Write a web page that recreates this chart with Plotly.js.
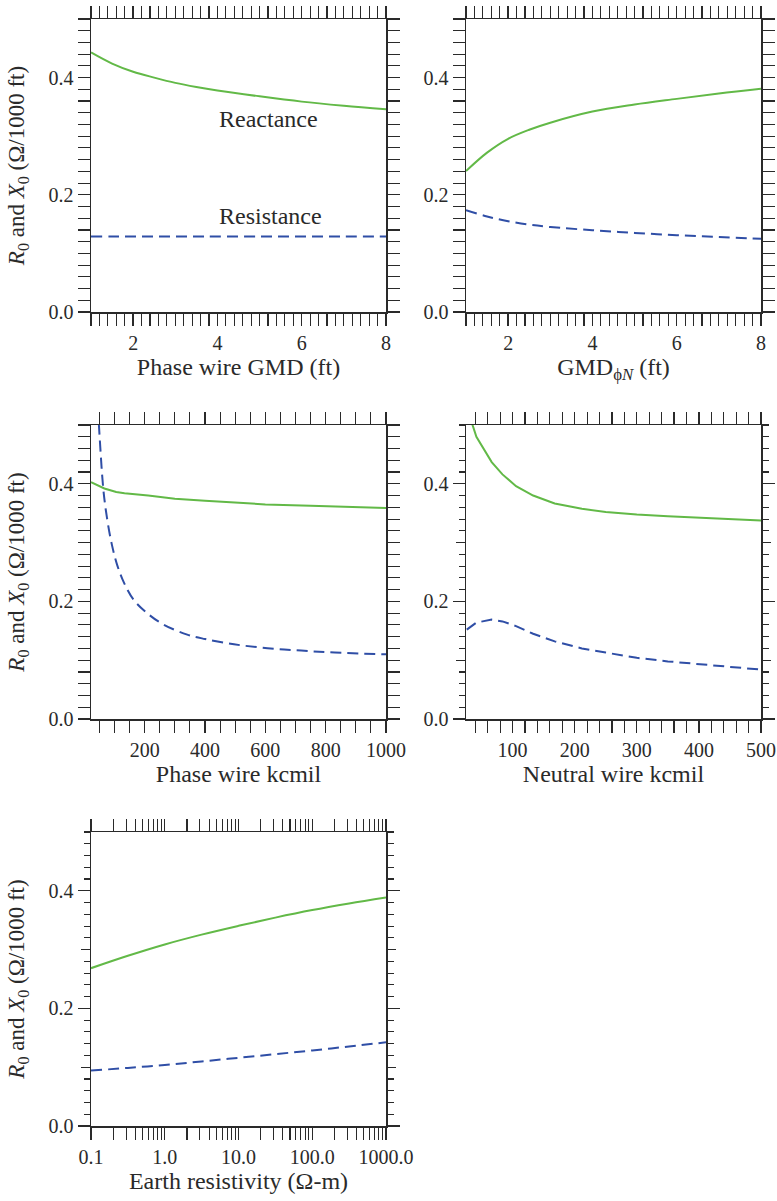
<!DOCTYPE html>
<html>
<head>
<meta charset="utf-8">
<script src="https://cdn.plot.ly/plotly-3.0.1.min.js"></script>
<style>html,body{margin:0;padding:0;background:#fff;}#chart{width:777px;height:1201px;}</style>
</head>
<body>
<div id="chart"></div>
<script>
// Panel 1: Phase wire GMD (ft)
const gmdPhase = [1, 1.5, 2, 2.5, 3, 3.5, 4, 5, 6, 7, 8];
const gmdPhaseX0 = [0.443, 0.424, 0.410, 0.400, 0.391, 0.384, 0.378, 0.368, 0.359, 0.352, 0.346];
const gmdPhaseR0 = [0.129, 0.129, 0.129, 0.129, 0.129, 0.129, 0.129, 0.129, 0.129, 0.129, 0.129];
// Panel 2: GMD phi-N (ft)
const gmdPN = [1, 1.5, 2, 2.5, 3, 4, 5, 6, 7, 8];
const gmdPNX0 = [0.2405, 0.272, 0.2956, 0.311, 0.323, 0.342, 0.354, 0.3637, 0.373, 0.381];
const gmdPNR0 = [0.1736, 0.163, 0.155, 0.149, 0.145, 0.1396, 0.135, 0.131, 0.128, 0.1248];
// Panel 3: Phase wire kcmil
const phaseKcmilX = [22, 41.74, 66.36, 105.6, 133.1, 211.6, 300, 400, 500, 600, 750, 800, 1000];
const phaseKcmilX0 = [0.403, 0.398, 0.392, 0.386, 0.384, 0.380, 0.3745, 0.371, 0.368, 0.365, 0.3625, 0.362, 0.359];
const phaseKcmilR = [41.74, 50, 63, 75, 91, 110, 132, 163, 208, 263, 341, 400, 496, 607, 719, 830, 1000];
const phaseKcmilR0 = [0.56, 0.485, 0.39, 0.342, 0.297, 0.26, 0.231, 0.203, 0.180, 0.1605, 0.1435, 0.136, 0.127, 0.1205, 0.1163, 0.113, 0.110];
// Panel 4: Neutral wire kcmil
const neutralKcmil = [26.24, 41.74, 66.36, 83.69, 105.6, 133.1, 167.8, 211.6, 250, 300, 350, 400, 500];
const neutralX0 = [0.53, 0.48, 0.437, 0.416, 0.396, 0.380, 0.3665, 0.3574, 0.352, 0.3478, 0.3449, 0.342, 0.3375];
const neutralR0 = [0.152, 0.164, 0.169, 0.166, 0.158, 0.145, 0.132, 0.120, 0.113, 0.104, 0.098, 0.093, 0.084];
// Panel 5: Earth resistivity (ohm-m)
const earthRho = [0.1, 0.316, 1, 3.16, 10, 31.6, 100, 316, 1000];
const earthX0 = [0.2684, 0.2895, 0.3088, 0.3255, 0.3404, 0.3544, 0.3672, 0.3784, 0.3886];
const earthR0 = [0.0942, 0.0988, 0.1038, 0.1098, 0.1160, 0.1222, 0.1285, 0.1352, 0.1424];
const earthTickVals = [0.1, 1, 10, 100, 1000];
const earthTickText = ['0.1', '1.0', '10.0', '100.0', '1000.0'];

const yTitle = '<i>R</i><sub>0</sub> and <i>X</i><sub>0</sub> (Ω/1000 ft)';
const GREEN = '#62b947';
const BLUE = '#2f4ea6';
const INK = '#2a2a2a';
const FONT = 'Liberation Serif, Times New Roman, serif';
const TICKSIZE = 20, TITLESIZE = 24, YTITLESIZE = 23;
const W = 777, H = 1201;

function px2x(a, b) { return [a / W, b / W]; }
function px2y(top, bot) { return [1 - bot / H, 1 - top / H]; }

const green = (x, y, xa, ya, shape) => ({x, y, xaxis: xa, yaxis: ya, mode: 'lines', line: {color: GREEN, width: 2, shape: shape || 'spline'}, hoverinfo: 'skip'});
const blue = (x, y, xa, ya, shape) => ({x, y, xaxis: xa, yaxis: ya, mode: 'lines', line: {color: BLUE, width: 2, dash: '11px,6px', shape: shape || 'spline'}, hoverinfo: 'skip'});

const data = [
  green(gmdPhase, gmdPhaseX0, 'x', 'y'), blue(gmdPhase, gmdPhaseR0, 'x', 'y'),
  green(gmdPN, gmdPNX0, 'x2', 'y2'), blue(gmdPN, gmdPNR0, 'x2', 'y2'),
  green(phaseKcmilX, phaseKcmilX0, 'x3', 'y3', 'linear'), blue(phaseKcmilR, phaseKcmilR0, 'x3', 'y3'),
  green(neutralKcmil, neutralX0, 'x4', 'y4', 'linear'), blue(neutralKcmil, neutralR0, 'x4', 'y4', 'linear'),
  green(earthRho, earthX0, 'x5', 'y5'), blue(earthRho, earthR0, 'x5', 'y5')
];

const titleFont = {family: FONT, size: TITLESIZE, color: INK};
const yTitleFont = {family: FONT, size: YTITLESIZE, color: INK};
const axBase = {
  showline: true, linecolor: INK, linewidth: 1.5, mirror: 'allticks',
  ticks: 'outside', ticklen: 12, tickwidth: 1.3, tickcolor: INK,
  showgrid: false, zeroline: false, fixedrange: true,
  tickfont: {family: FONT, size: TICKSIZE, color: INK}
};
const minorSpec = (extra) => Object.assign({ticks: 'outside', ticklen: 6, tickwidth: 1.1, tickcolor: INK, showgrid: false}, extra);
function xax(domain, extra) { return Object.assign({}, axBase, {domain}, extra); }
function yax(domain, anchor, title) {
  const a = Object.assign({}, axBase, {
    domain, anchor, range: [0, 0.5], dtick: 0.2, tick0: 0, tickformat: '.1f',
    minor: minorSpec({dtick: 0.02})
  });
  if (title) a.title = {text: title, standoff: 17, font: yTitleFont};
  return a;
}
// overlay axes that only draw the medium-length ticks
function midX(over, anchor, domain, range, dtick) {
  return {overlaying: over, anchor, domain, range, dtick, tick0: 0, showticklabels: false, showline: false,
    ticks: 'outside', ticklen: 9, tickwidth: 1.2, tickcolor: INK, mirror: 'allticks', showgrid: false, zeroline: false, fixedrange: true};
}
function midY(over, anchor, domain) {
  return {overlaying: over, anchor, domain, range: [0, 0.5], tickvals: [0.1, 0.3], showticklabels: false, showline: false,
    ticks: 'outside', ticklen: 9, tickwidth: 1.2, tickcolor: INK, mirror: 'allticks', showgrid: false, zeroline: false, fixedrange: true};
}
const minorLog = [];
for (let d = -1; d < 3; d++) for (let k = 2; k <= 9; k++) minorLog.push(k * Math.pow(10, d));

const c1 = px2x(91, 386), c2 = px2x(466, 761);
const r1 = px2y(19, 312), r2 = px2y(425, 719), r3 = px2y(832, 1126);

// invisible helper traces so the overlay (medium tick) axes are drawn
const ghost = (xa, ya, x, y) => ({x: [x], y: [y], xaxis: xa, yaxis: ya, mode: 'markers', marker: {opacity: 0}, hoverinfo: 'skip', showlegend: false});
data.push(ghost('x6', 'y', 1, 0), ghost('x7', 'y2', 1, 0), ghost('x8', 'y3', 100, 0));
data.push(ghost('x', 'y9', 1, 0), ghost('x2', 'y10', 1, 0), ghost('x3', 'y11', 100, 0), ghost('x4', 'y12', 100, 0), ghost('x5', 'y13', 1, 0));

const layout = {
  width: W, height: H, margin: {l: 0, r: 0, t: 0, b: 0},
  paper_bgcolor: '#fff', plot_bgcolor: 'rgba(0,0,0,0)', showlegend: false,
  font: {family: FONT, color: INK},
  xaxis: xax(c1, {anchor: 'y', range: [1, 8], tickvals: [2, 4, 6, 8], minor: minorSpec({dtick: 0.2}),
    title: {text: 'Phase wire GMD (ft)', standoff: 5, font: titleFont}}),
  yaxis: yax(r1, 'x', yTitle),
  xaxis2: xax(c2, {anchor: 'y2', range: [1, 8], tickvals: [2, 4, 6, 8], minor: minorSpec({dtick: 0.2}),
    title: {text: 'GMD<sub>ϕ<i>N</i></sub> (ft)', standoff: 5, font: titleFont}}),
  yaxis2: yax(r1, 'x2'),
  xaxis3: xax(c1, {anchor: 'y3', range: [22, 1000], tickvals: [200, 400, 600, 800, 1000], minor: minorSpec({dtick: 50}),
    title: {text: 'Phase wire kcmil', standoff: 5, font: titleFont}}),
  yaxis3: yax(r2, 'x3', yTitle),
  xaxis4: xax(c2, {anchor: 'y4', range: [25, 500], tickvals: [100, 200, 300, 400, 500], minor: minorSpec({dtick: 20}),
    title: {text: 'Neutral wire kcmil', standoff: 5, font: titleFont}}),
  yaxis4: yax(r2, 'x4'),
  xaxis5: xax(c1, {anchor: 'y5', type: 'log', range: [-1, 3], tickvals: earthTickVals, ticktext: earthTickText,
    minor: minorSpec({tickvals: minorLog, ticklen: 7}),
    title: {text: 'Earth resistivity (Ω-m)', standoff: 5, font: titleFont}}),
  yaxis5: yax(r3, 'x5', yTitle),
  xaxis6: midX('x', 'y', c1, [1, 8], 1),
  xaxis7: midX('x2', 'y2', c2, [1, 8], 1),
  xaxis8: midX('x3', 'y3', c1, [22, 1000], 100),
  yaxis9: midY('y', 'x', r1),
  yaxis10: midY('y2', 'x2', r1),
  yaxis11: midY('y3', 'x3', r2),
  yaxis12: midY('y4', 'x4', r2),
  yaxis13: midY('y5', 'x5', r3),
  annotations: [
    {xref: 'x', yref: 'y', x: 5.21, y: 0.3285, text: 'Reactance', showarrow: false, xanchor: 'center', yanchor: 'middle', font: titleFont},
    {xref: 'x', yref: 'y', x: 5.26, y: 0.163, text: 'Resistance', showarrow: false, xanchor: 'center', yanchor: 'middle', font: titleFont}
  ]
};

Plotly.newPlot('chart', data, layout, {staticPlot: true, displayModeBar: false});
</script>
</body>
</html>
